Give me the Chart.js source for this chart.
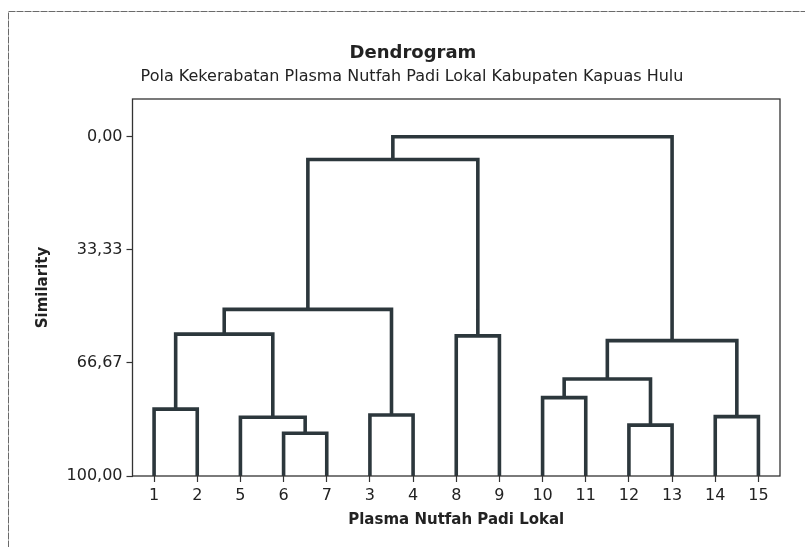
<!DOCTYPE html>
<html><head><meta charset="utf-8">
<script src="https://cdn.jsdelivr.net/npm/chart.js@4.4.1/dist/chart.umd.min.js"></script>
<style>html,body{margin:0;padding:0;background:#fff;overflow:hidden}#wrap{width:805px;height:547px;position:relative}</style>
</head><body><div id="wrap"><canvas id="c"></canvas></div>
<script>
const chartTitle = 'Dendrogram';
const chartSubtitle = 'Pola Kekerabatan Plasma Nutfah Padi Lokal Kabupaten Kapuas Hulu';
const xAxisTitle = 'Plasma Nutfah Padi Lokal';
const yAxisTitle = 'Similarity';
// leaves in dendrogram order (node ids 0..14), merges create node ids 15..28
const leafLabels = ['1','2','5','6','7','3','4','8','9','10','11','12','13','14','15'];
const mergeLeft  = [3, 11, 2, 13, 5, 0, 9, 21, 22, 7, 20, 25, 26, 27];
const mergeRight = [4, 12, 15, 14, 6, 1, 10, 16, 18, 8, 17, 19, 24, 23];
const mergeSimilarity = [87.4, 85.0, 82.7, 82.5, 82.0, 80.3, 76.9, 71.4, 60.1, 58.7, 58.2, 50.9, 6.7, 0.0];
const yTickValues = [0, 33.33, 66.67, 100];
const yTickLabels = ['0,00', '33,33', '66,67', '100,00'];

const LINE = '#2c373c';
const TEXT = '#222';

// node positions
const nodeX = leafLabels.map((_, i) => i + 1);
const nodeY = leafLabels.map(() => 100);
const datasets = [];
mergeLeft.forEach((a, k) => {
  const b = mergeRight[k];
  const h = mergeSimilarity[k];
  datasets.push({
    data: [{x: nodeX[a], y: nodeY[a]}, {x: nodeX[a], y: h}, {x: nodeX[b], y: h}, {x: nodeX[b], y: nodeY[b]}],
    borderColor: LINE, borderWidth: 3.6, pointRadius: 0, tension: 0,
    borderJoinStyle: 'miter', borderCapStyle: 'butt', fill: false
  });
  nodeX.push((nodeX[a] + nodeX[b]) / 2);
  nodeY.push(h);
});

const decor = {
  id: 'decor',
  beforeDraw(chart) {
    const ctx = chart.ctx;
    ctx.save();
    ctx.fillStyle = '#fff';
    ctx.fillRect(0, 0, chart.width, chart.height);
    ctx.strokeStyle = '#6a6a6a';
    ctx.lineWidth = 1;
    ctx.setLineDash([7, 1]);
    ctx.strokeRect(8.5, 11.5, 900, 700);
    ctx.restore();
  },
  afterDatasetsDraw(chart) {
    const ctx = chart.ctx;
    const {left, top, right, bottom} = chart.chartArea;
    ctx.save();
    ctx.strokeStyle = '#333';
    ctx.lineWidth = 1.3;
    ctx.strokeRect(left, top, right - left, bottom - top);
    ctx.fillStyle = TEXT;
    ctx.textAlign = 'center';
    ctx.textBaseline = 'alphabetic';
    ctx.font = 'bold 18px "DejaVu Sans"';
    ctx.fillText(chartTitle, 413, 58);
    ctx.font = '16px "DejaVu Sans"';
    ctx.fillText(chartSubtitle, 412, 81);
    ctx.restore();
  }
};

new Chart(document.getElementById('c'), {
  type: 'line',
  data: {datasets},
  plugins: [decor],
  options: {
    responsive: true, maintainAspectRatio: false, animation: false,
    parsing: true,
    layout: {padding: {top: 99, left: 8, right: 25, bottom: 0}},
    plugins: {legend: {display: false}, tooltip: {enabled: false}, title: {display: false}},
    scales: {
      x: {
        type: 'linear', min: 0.5, max: 15.5,
        afterFit: s => { s.height = 71; },
        afterBuildTicks: s => { s.ticks = leafLabels.map((_, i) => ({value: i + 1})); },
        ticks: {callback: (v, i) => leafLabels[i], font: {family: 'DejaVu Sans', size: 16}, color: TEXT, padding: 4, maxRotation: 0, autoSkip: false},
        grid: {display: true, drawOnChartArea: false, drawTicks: true, tickLength: 6, tickColor: '#333', tickWidth: 1.2},
        border: {display: false},
        title: {display: true, text: xAxisTitle, font: {family: 'DejaVu Sans', size: 15, weight: 'bold'}, color: TEXT, padding: {top: 0, bottom: 18}}
      },
      y: {
        type: 'linear', reverse: true, min: -11.11, max: 100,
        afterFit: s => { s.width = 124.5; },
        afterBuildTicks: s => { s.ticks = yTickValues.map(v => ({value: v})); },
        ticks: {callback: (v, i) => yTickLabels[i], font: {family: 'DejaVu Sans', size: 16}, color: TEXT, padding: 4},
        grid: {display: true, drawOnChartArea: false, drawTicks: true, tickLength: 6, tickColor: '#333', tickWidth: 1.2},
        border: {display: false},
        title: {display: true, text: yAxisTitle, font: {family: 'DejaVu Sans', size: 15, weight: 'bold'}, color: TEXT, padding: {top: 26, bottom: 0}}
      }
    }
  }
});
</script></body></html>
